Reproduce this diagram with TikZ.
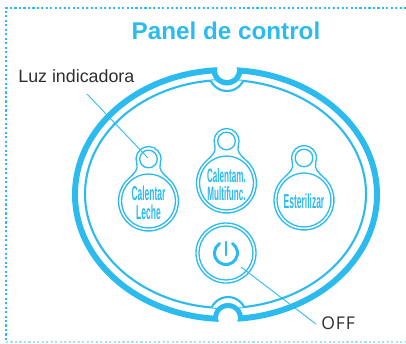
\documentclass[tikz,border=0pt]{standalone}
\usepackage{fontspec}
\setmainfont{Liberation Sans}
\newfontfamily\btnfont[FakeStretch=0.42]{Liberation Sans}
\newfontfamily\offfont[LetterSpace=5]{Open Sans}
\definecolor{panelblue}{HTML}{2BBBEF}
\definecolor{framepale}{HTML}{A6E0F2}
\definecolor{textdark}{HTML}{2E2E2E}
\tikzset{
  btnline/.style={draw=panelblue, line width=0.75pt},
  leader/.style={draw=panelblue, line width=0.5pt},
  framedots/.style={panelblue, line width=1.3pt, dash pattern=on 1.2pt off 1.35pt},
  pics/keybtn/.style={code={
    \draw[btnline, fill=white] (-50:30) arc[start angle=-50, end angle=230, radius=30]
      .. controls (-14,-28) and (-10,-31) .. (-11.7,-37.7)
      arc[start angle=160, end angle=380, radius=12.5]
      .. controls (10,-31) and (14,-28) .. cycle;
    \draw[btnline] (0,0) circle[radius=27];
    \draw[btnline] (0,-42) circle[radius=8.8];
    \node[panelblue, align=center, inner sep=0pt, font=\btnfont\bfseries\fontsize{#1}{10.6}\selectfont] (label) at (0,1.5) {\btntext};
  }}
}
\newcommand{\btntext}{}
\begin{document}
\begin{tikzpicture}[x=0.02cm, y=-0.02cm]
  \useasboundingbox (0,0) rectangle (406,343);

  % Dotted frame, open on the right
  \draw[framedots] (6,340) -- (6,8) -- (406,8);
  \draw[framedots, framepale] (6,342) -- (406,342);

  % Title
  \node[panelblue, font=\fontsize{13.8}{13.8}\selectfont\bfseries] (title) at (226,31) {Panel de control};

  % Inner line with its two bumps
  \draw[panelblue, line width=1.2pt] (225.5,194) ellipse[x radius=140.5, y radius=114];
  \begin{scope}
    \clip (225.5,194) ellipse[x radius=140.5, y radius=114];
    \draw[panelblue, line width=1.2pt, fill=white] (227,73) circle[radius=18];
    \draw[panelblue, line width=1.2pt, fill=white] (228,315) circle[radius=18];
  \end{scope}

  % Outer band with its two notches
  \draw[panelblue, line width=3.4pt] (226,194.5) ellipse[x radius=151, y radius=124.5];
  \begin{scope}
    \clip (226,194.5) ellipse[x radius=151, y radius=124.5];
    \fill[panelblue] (227,70) circle[radius=15.5];
    \fill[panelblue] (228,318) circle[radius=15];
  \end{scope}
  \fill[white] (227,70) circle[radius=10];
  \fill[white] (228,318) circle[radius=10];

  % Buttons
  \renewcommand{\btntext}{Calentar\\Leche}
  \pic (leche) at (148.5,201) {keybtn=11.5};
  \renewcommand{\btntext}{Calentam.\\Multifunc.}
  \pic (multi) at (226.5,183) {keybtn=11};
  \renewcommand{\btntext}{Esterilizar}
  \pic (ester) at (304,200) {keybtn=11.5};

  % Power button
  \draw[btnline] (226,253) circle[radius=30];
  \draw[btnline] (226,253) circle[radius=27];
  \draw[panelblue, line width=1.7pt, line cap=round] (232.4,243.5) arc[start angle=-56, end angle=236, radius=11.5];
  \draw[panelblue, line width=1.7pt, line cap=round] (226,242) -- (226,255);

  % Labels and their leader lines
  \node[textdark, anchor=base west, inner sep=0pt, font=\fontsize{10.15}{10.15}\selectfont] (luz) at (18,82) {Luz indicadora};
  \node[textdark, anchor=base west, inner sep=0pt, font=\offfont\fontsize{10}{10}\selectfont] (off) at (321,329) {OFF};
  \coordinate (luzstart) at (87,94);
  \coordinate (luzend) at (148,158);
  \coordinate (offstart) at (241,267);
  \coordinate (offend) at (316,324);
  \draw[leader] (luzstart) -- (luzend);
  \draw[leader] (offstart) -- (offend);
\end{tikzpicture}
\end{document}
